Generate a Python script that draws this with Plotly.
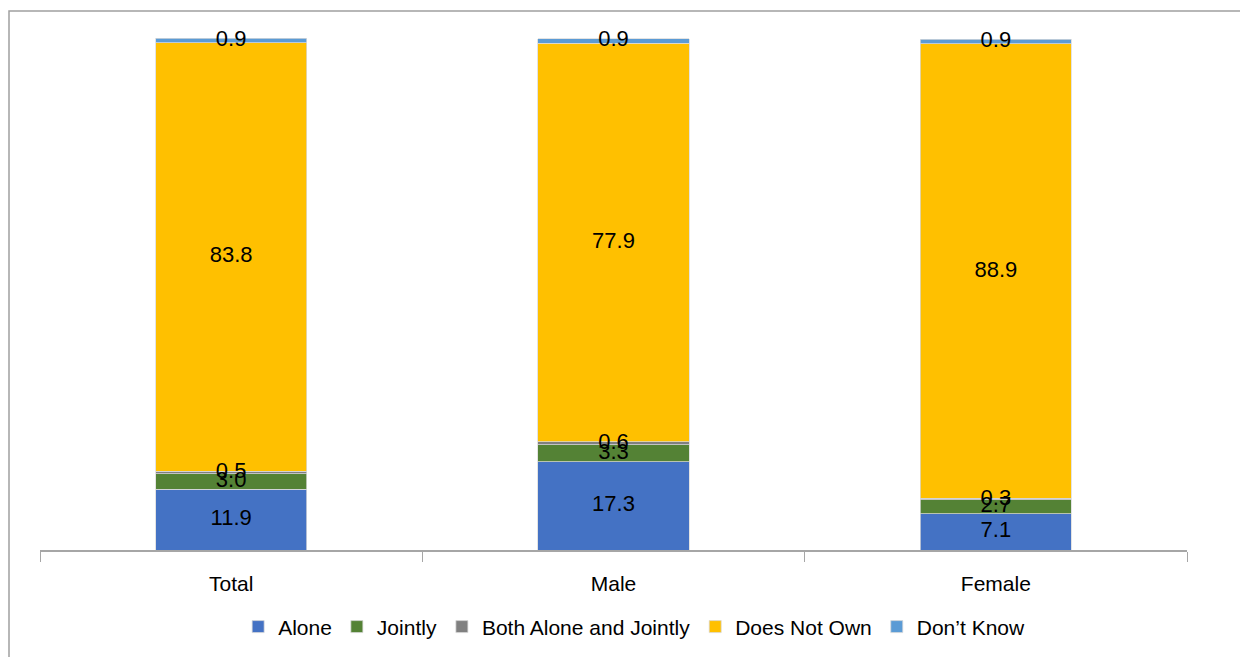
import plotly.graph_objects as go

categories = ["Total", "Male", "Female"]
alone = [11.9, 17.3, 7.1]
jointly = [3.0, 3.3, 2.7]
both = [0.5, 0.6, 0.3]
does_not_own = [83.8, 77.9, 88.9]
dont_know = [0.9, 0.9, 0.9]

series = [
    ("Alone", alone, "#4472C4"),
    ("Jointly", jointly, "#548235"),
    ("Both Alone and Jointly", both, "#808080"),
    ("Does Not Own", does_not_own, "#FFC000"),
    ("Don\u2019t Know", dont_know, "#5B9BD5"),
]

FONT = "Liberation Sans Narrow, Arial Narrow, Liberation Sans, Arial, sans-serif"

fig = go.Figure()
for name, vals, color in series:
    fig.add_trace(go.Bar(
        name=name, x=categories, y=vals,
        marker=dict(color=color, line=dict(color="#d9d9d9", width=0.75)),
        width=0.395,
    ))

# data labels drawn on top of all bars, centred in each stacked segment
base = [0.0] * len(categories)
for name, vals, color in series:
    mids = [b + v / 2 for b, v in zip(base, vals)]
    fig.add_trace(go.Scatter(
        x=categories, y=mids, mode="text",
        text=[f"{v:.1f}" for v in vals],
        textposition="middle center",
        textfont=dict(size=22, color="black", family=FONT),
        showlegend=False, hoverinfo="skip", cliponaxis=False,
    ))
    base = [b + v for b, v in zip(base, vals)]

PLOT_W = 1248 - 32 - 69
PLOT_H = 657 - 29 - 115

fig.update_layout(
    barmode="stack",
    width=1248, height=657,
    margin=dict(l=32, r=69, t=29, b=115),
    plot_bgcolor="white", paper_bgcolor="white",
    font=dict(family=FONT, size=21, color="black"),
    showlegend=True,
    legend=dict(orientation="h", x=0.518, xanchor="center", y=-0.15, yanchor="middle",
                font=dict(size=21, family=FONT), traceorder="normal", itemwidth=30),
    xaxis=dict(showline=True, linecolor="#a6a6a6", linewidth=1.5,
               ticks="outside", tickson="boundaries", ticklen=10, tickcolor="#a6a6a6",
               ticklabelstandoff=14,
               tickfont=dict(size=21, family=FONT, color="black"), showgrid=False),
    yaxis=dict(range=[0, 100.3], visible=False, showgrid=False),
    shapes=[dict(type="rect", xref="paper", yref="paper",
                 x0=(1 - 32) / PLOT_W, x1=1.2, y0=-0.4, y1=1 + (29 - 3) / PLOT_H,
                 line=dict(color="#a0a0a0", width=1.5), fillcolor="rgba(0,0,0,0)", layer="below")],
)

fig.write_html("out.html")
